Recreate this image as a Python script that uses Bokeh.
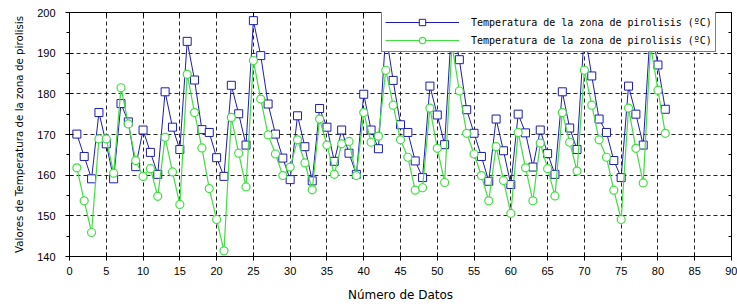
from bokeh.plotting import figure
from bokeh.models import (LinearAxis, SingleIntervalTicker, Legend, LegendItem,
                          ColumnDataSource, CustomJSTickFormatter)
from bokeh.embed import file_html
from bokeh.resources import INLINE

# ---- data -------------------------------------------------------------
x_vals = list(range(1, 82))
temp_blue = [170.1, 164.6, 159.1, 175.4, 167.7, 159.1, 177.6, 173.1, 162.1, 171.1,
             165.6, 160.2, 180.5, 171.8, 166.3, 192.9, 183.4, 171.2, 170.5, 164.3,
             159.7, 182.1, 175.1, 167.4, 198.0, 189.4, 177.5, 170.1, 164.2, 158.9,
             174.6, 167.0, 158.6, 176.4, 171.8, 163.4, 171.1, 165.4, 160.2, 179.9,
             171.1, 166.5, 195.0, 183.3, 172.4, 170.5, 163.5, 159.4, 181.9, 174.8,
             167.5, 198.5, 188.4, 176.1, 170.3, 164.6, 158.5, 173.8, 166.0, 157.7,
             175.0, 170.4, 162.0, 171.1, 165.3, 160.2, 180.5, 171.6, 166.3, 195.5,
             184.4, 173.8, 170.5, 163.6, 159.4, 181.9, 175.0, 167.4, 197.0, 187.1,
             176.2]
temp_green = [161.8, 153.7, 145.9, 168.9, 168.9, 160.5, 181.5, 172.6, 163.6, 159.7,
              161.6, 154.8, 169.3, 160.8, 152.8, 184.8, 175.4, 166.7, 156.7, 149.1,
              141.4, 174.2, 165.4, 157.1, 188.2, 178.7, 169.9, 165.2, 159.9, 162.0,
              168.7, 163.0, 156.4, 173.8, 167.4, 160.2, 167.7, 168.3, 159.9, 175.4,
              168.1, 169.6, 185.8, 177.2, 168.7, 164.4, 156.3, 156.9, 176.5, 166.6,
              158.2, 192.0, 180.7, 170.3, 165.2, 159.9, 153.7, 167.0, 158.7, 150.6,
              170.5, 161.8, 153.7, 167.9, 161.6, 154.9, 175.4, 168.1, 161.0, 185.8,
              177.2, 168.7, 164.4, 156.3, 149.1, 176.5, 166.6, 158.1, 192.0, 180.9,
              170.3]
series_labels = ["Temperatura de la zona de pirolisis (ºC)",
                 "Temperatura de la zona de pirolisis (ºC)"]
x_label = "Número de Datos"
y_label = "Valores de Temperatura de la zona de pirolisis"

BLUE = "#1c1cb4"
GREEN = "#3ee03e"
TICK_FONT = "Liberation Sans"
LABEL_FONT = "DejaVu Sans"
LEGEND_FONT = "DejaVu Sans Mono"

src = ColumnDataSource(dict(x=x_vals, b=temp_blue, g=temp_green))

p = figure(width=737, height=304, x_range=(0, 90), y_range=(140, 200),
           output_backend="svg", toolbar_location=None,
           min_border_left=69, min_border_right=6, min_border_top=12,
           min_border_bottom=45)
p.background_fill_color = "white"
p.border_fill_color = "white"
p.outline_line_color = "black"
p.outline_line_width = 1

x_ticker = SingleIntervalTicker(interval=5, num_minor_ticks=0)
y_ticker = SingleIntervalTicker(interval=10, num_minor_ticks=2)

# axes
p.xaxis.ticker = x_ticker
p.yaxis.ticker = y_ticker
for ax in (p.xaxis[0], p.yaxis[0]):
    ax.axis_line_color = "black"
    ax.major_tick_line_color = "black"
    ax.minor_tick_line_color = "black"
    ax.major_tick_in = 4
    ax.major_tick_out = 4
    ax.minor_tick_in = 0
    ax.minor_tick_out = 3
    ax.major_label_text_font = TICK_FONT
    ax.major_label_text_font_size = "11px"
    ax.major_label_text_color = "black"
    ax.axis_label_text_font = LABEL_FONT
    ax.axis_label_text_font_style = "normal"
    ax.axis_label_text_color = "black"
p.xaxis.axis_label = x_label
p.yaxis.axis_label = y_label
p.xaxis.axis_label_text_font_size = "12px"
p.yaxis.axis_label_text_font_size = "10.3px"
p.xaxis.major_label_standoff = 6
p.xaxis.axis_label_standoff = 10
p.yaxis.major_label_standoff = 10
p.yaxis.axis_label_standoff = 9

blank = CustomJSTickFormatter(code="return ''")
top_ax = LinearAxis(ticker=x_ticker, formatter=blank,
                    major_tick_in=4, major_tick_out=0, major_label_standoff=0,
                    axis_line_color="black",
                    major_tick_line_color="black", minor_tick_line_color=None)
right_ax = LinearAxis(ticker=y_ticker, formatter=blank,
                      major_tick_in=4, major_tick_out=0, minor_tick_in=3,
                      minor_tick_out=0, major_label_standoff=0,
                      axis_line_color="black",
                      major_tick_line_color="black", minor_tick_line_color="black")
p.add_layout(top_ax, "above")
p.add_layout(right_ax, "right")

# grid
p.xgrid.ticker = x_ticker
p.ygrid.ticker = y_ticker
p.xgrid.grid_line_color = "black"
p.ygrid.grid_line_color = "black"
p.xgrid.grid_line_dash = "4 3"
p.ygrid.grid_line_dash = "4 3"
p.xgrid.grid_line_alpha = 0.85
p.ygrid.grid_line_alpha = 0.85
p.xgrid.grid_line_width = 1
p.ygrid.grid_line_width = 1

# series
lb = p.line("x", "b", source=src, line_color=BLUE, line_width=1)
sb = p.scatter("x", "b", source=src, marker="square", size=8,
               line_color=BLUE, fill_color="white", line_width=1)
lg = p.line("x", "g", source=src, line_color=GREEN, line_width=1.2)
sg = p.scatter("x", "g", source=src, marker="circle", size=8,
               line_color=GREEN, fill_color="white", line_width=1.2)

legend = Legend(items=[LegendItem(label=series_labels[0], renderers=[lb, sb]),
                       LegendItem(label=series_labels[1], renderers=[lg, sg])],
                location=(312, 204), orientation="vertical",
                glyph_width=74, glyph_height=16, label_height=16,
                label_standoff=12, spacing=2, padding=3, margin=0,
                label_text_font=LEGEND_FONT, label_text_font_size="10px",
                label_text_color="black",
                border_line_color="black", border_line_width=1,
                background_fill_color="white", background_fill_alpha=1)
p.add_layout(legend, "center")

open("out.html", "w").write(file_html(p, INLINE))
